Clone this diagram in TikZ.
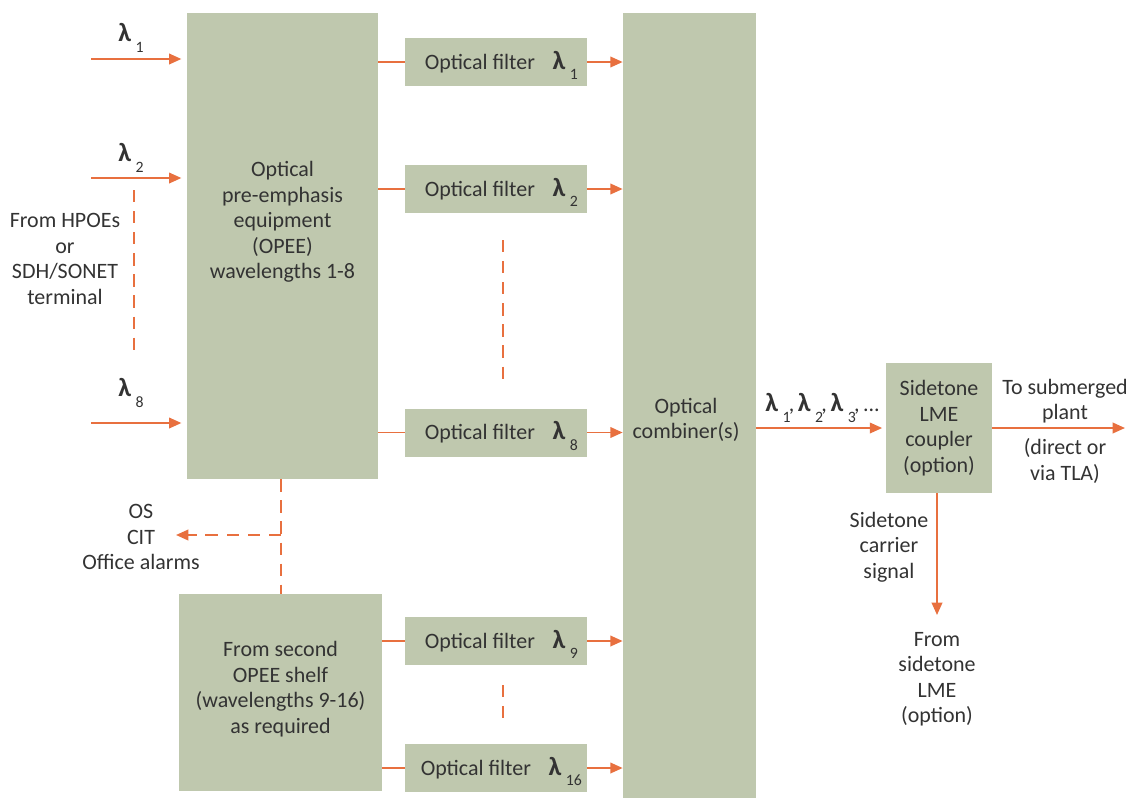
\documentclass[tikz,border=0pt]{standalone}
\usepackage{fontspec}
\setmainfont{Carlito}
\usetikzlibrary{arrows.meta}
\definecolor{boxfill}{HTML}{BFC8AE}
\definecolor{wire}{HTML}{E8703F}
\definecolor{txt}{HTML}{333333}
\newcommand\lam[1]{{\fontsize{15}{15}\selectfont\bfseries λ}\kern2.5pt\raisebox{-1ex}{\small #1}}
\begin{document}
\begin{tikzpicture}[x=0.02cm,y=-0.02cm,
  every node/.style={text=txt,font=\fontsize{12.5}{14.5}\selectfont,align=center,inner sep=0pt},
  blk/.style={fill=boxfill,draw=none},
  wireline/.style={draw=wire,line width=1.1pt},
  arr/.style={wireline,-{Triangle[length=7pt,width=6pt]}},
  dashline/.style={wireline,dash pattern=on 7pt off 5pt},
  dasharr/.style={dashline,-{Triangle[length=7pt,width=6pt]}}]
\useasboundingbox (0,0) rectangle (1129,798);
% boxes
\node[blk,minimum width=3.82cm,minimum height=9.32cm] (opee) at (282.5,246) {};
\node[blk,minimum width=2.66cm,minimum height=15.7cm] (comb) at (689.5,405.5) {};
\node[blk,minimum width=4.06cm,minimum height=3.94cm] (shelf) at (280.5,692.5) {};
\node[blk,minimum width=2.12cm,minimum height=2.6cm] (side) at (939,428) {};
\foreach \n/\y/\s in {f1/62/1,f2/189/2,f8/432.5/8,f9/641/9,f16/768/16}
  \node[blk,minimum width=3.64cm,minimum height=0.96cm] (\n) at (496,\y) {};
\foreach \n/\s in {f1/1,f2/2,f8/8,f9/9,f16/16}
  \node[anchor=base] at ([xshift=3pt,yshift=-4pt]\n.center) {Optical filter\hspace{0.8em}\lam{\s}};
% box texts
\node at (282.5,222) {Optical\\pre-emphasis\\equipment\\(OPEE)\\wavelengths 1-8};
\node at (280.5,689) {From second\\OPEE shelf\\(wavelengths 9-16)\\as required};
\node at (686,420) {Optical\\combiner(s)};
\node at (939,428) {Sidetone\\LME\\coupler\\(option)};
% inputs
\coordinate (i1) at (91,59);
\coordinate (i2) at (91,178);
\coordinate (i8) at (91,423);
\foreach \c in {i1,i2,i8}
  \draw[arr,shorten >=3pt] (\c) -- (opee.west |- \c);
\node at (131,38) {\lam{1}};
\node at (131,158) {\lam{2}};
\node at (131,393) {\lam{8}};
\coordinate (d1) at (134,190);
\coordinate (d2) at (134,350);
\draw[dashline] (d1) -- (d2);
\node at (65,259) {From HPOEs\\or\\SDH/SONET\\terminal};
% OPEE to filters
\foreach \n in {f1,f2,f8}
  \draw[wireline] (opee.east |- \n.west) -- (\n.west);
\foreach \n in {f9,f16}
  \draw[wireline] (shelf.east |- \n.west) -- (\n.west);
\foreach \n in {f1,f2,f8,f9,f16}
  \draw[arr] (\n.east) -- (comb.west |- \n.east);
% continuation marks
\coordinate (v1) at (503,240);
\coordinate (v2) at (503,380);
\draw[dashline] (v1) -- (v2);
\coordinate (v3) at (503,685);
\coordinate (v4) at (503,727);
\draw[dashline] (v3) -- (v4);
% management
\coordinate (mj) at (281,535);
\coordinate (mo) at (176,535);
\draw[dashline] (opee.south -| mj) -- (shelf.north -| mj);
\draw[dasharr] (mj) -- (mo);
\node at (141,537) {OS\\CIT\\Office alarms};
% combiner to sidetone
\draw[arr,shorten >=2pt] (comb.east |- side.west) -- (side.west);
\node[anchor=west] at (765,408) {\lam{1}\kern-1pt,\,\lam{2}\kern-1pt,\,\lam{3}\kern-1pt,\,...};
\coordinate (out) at (1125,428);
\draw[arr] (side.east) -- (out);
\node at (1065,401) {To submerged\\plant};
\node at (1065,461) {(direct or\\via TLA)};
\coordinate (down) at (937,615);
\draw[arr] (side.south -| down) -- (down);
\node at (889,547) {Sidetone\\carrier\\signal};
\node at (937,679) {From\\sidetone\\LME\\(option)};
\end{tikzpicture}
\end{document}
